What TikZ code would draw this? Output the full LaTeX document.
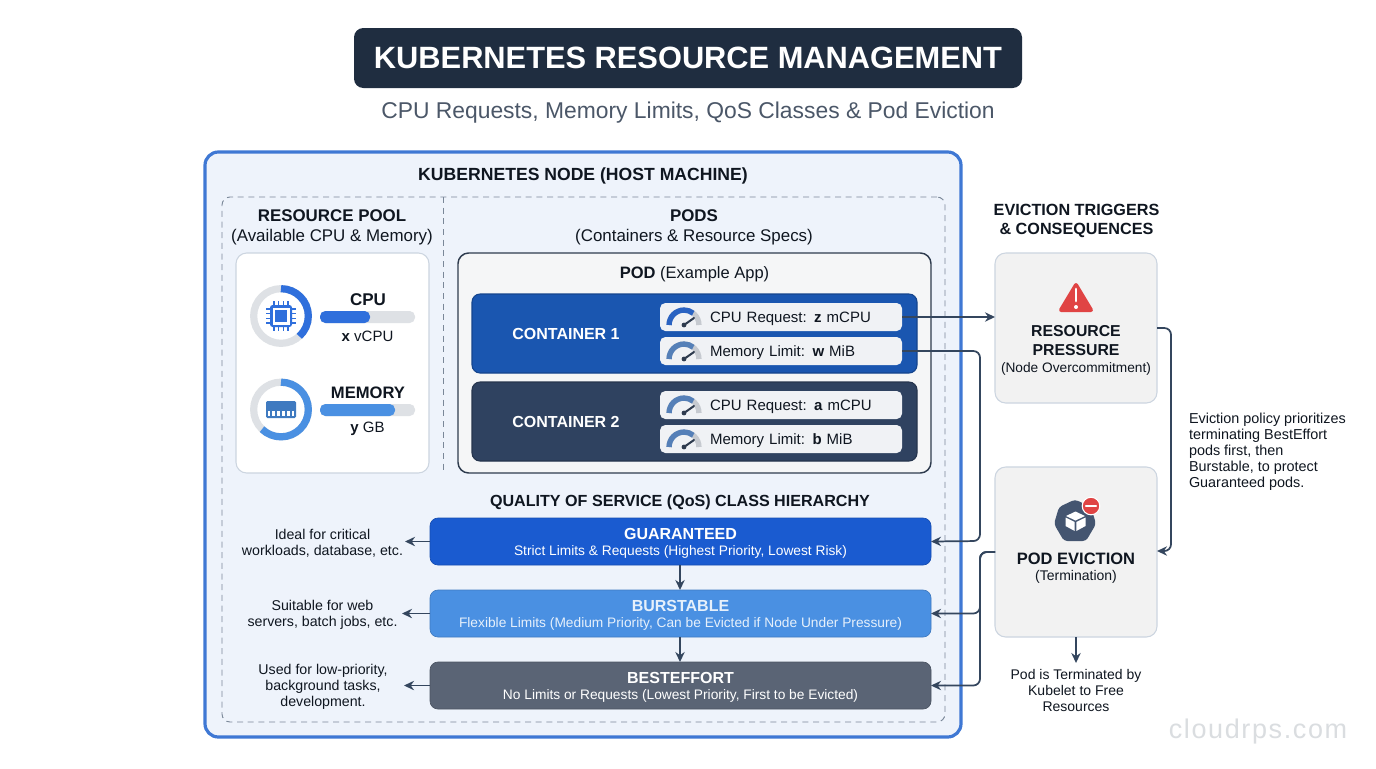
\documentclass[tikz,border=0pt]{standalone}
\usepackage{fontspec}
\setmainfont{Liberation Sans}
\newfontfamily\wmfont[LetterSpace=6]{Liberation Sans}
\usetikzlibrary{arrows.meta,calc}
\newcommand\fs[2]{\fontsize{\fpeval{#1*.75}pt}{\fpeval{#2*.75}pt}\selectfont}
\definecolor{ink}{HTML}{0F1620}
\definecolor{titlebg}{HTML}{1F2D40}
\definecolor{subt}{HTML}{4B5768}
\definecolor{nodeb}{HTML}{3F78D4}
\definecolor{nodef}{HTML}{EEF3FB}
\definecolor{dashc}{HTML}{7A8798}
\definecolor{cardb}{HTML}{CCD5E0}
\definecolor{podf}{HTML}{F5F6F7}
\definecolor{podb}{HTML}{2E3B4E}
\definecolor{conta}{HTML}{1A56B0}
\definecolor{contb}{HTML}{2F4260}
\definecolor{specf}{HTML}{F0F2F5}
\definecolor{guar}{HTML}{1A5BD0}
\definecolor{burst}{HTML}{4A90E2}
\definecolor{best}{HTML}{5A6475}
\definecolor{burstt}{HTML}{E6F0FB}
\definecolor{sidef}{HTML}{F2F2F2}
\definecolor{conn}{HTML}{34465E}
\definecolor{track}{HTML}{DEE1E5}
\definecolor{gtrack}{HTML}{C6CAD0}
\definecolor{cpub}{HTML}{2F6FDC}
\definecolor{gaugeb}{HTML}{5580B8}
\definecolor{gaugea}{HTML}{2A63C2}
\definecolor{warn}{HTML}{E04444}
\definecolor{wm}{HTML}{DADDE0}
\tikzset{
  x=0.75pt,y=-0.75pt,
  box/.style={inner sep=0pt,outer sep=0pt,align=center},
  outerbox/.style={box,draw=nodeb,line width=2.4pt,fill=nodef,rounded corners=10pt},
  dashbox/.style={box,draw=dashc,line width=.7pt,dash pattern=on 4.5pt off 3.5pt,rounded corners=6pt},
  cardbox/.style={box,draw=cardb,line width=.8pt,fill=white,rounded corners=8pt},
  podbox/.style={box,draw=podb,line width=1.1pt,fill=podf,rounded corners=8pt},
  contbox/.style={box,draw=#1!80!black,line width=.8pt,fill=#1,rounded corners=6pt},
  specbox/.style={box,fill=specf,rounded corners=4pt,text=ink},
  qosbox/.style={box,draw=#1!85!black,line width=.5pt,fill=#1,rounded corners=6pt,text=white},
  sidebox/.style={box,draw=cardb,line width=.8pt,fill=sidef,rounded corners=8pt},
  txt/.style n args={2}{inner sep=0pt,outer sep=0pt,align=center,text=ink,font={\fs{#1}{#2}}},
  link/.style={draw=conn,line width=1.3pt,rounded corners=5pt,-{Stealth[length=7.5pt,width=7pt]}},
  plain/.style={draw=conn,line width=1.3pt,rounded corners=5pt},
}
% name, style, x0, y0, x1, y1, text
\newcommand\pxbox[7]{\node[#2,minimum width={(#5-#3)*.75pt},minimum height={(#6-#4)*.75pt}] (#1) at ({(#3+#5)/2},{(#4+#6)/2}) {#7};}
\newcommand\ringicon[4]{% cx cy endangle colour
  \draw[track,line width=5.4pt] (#1,#2) circle[radius=20.5pt];
  \draw[#4,line width=5.4pt] (#1,#2) ++(90:20.5pt) arc[start angle=90,end angle=#3,radius=20.5pt];
}
\newcommand\gauge[3]{% cx cy colour
  \draw[gtrack,line width=4pt] (#1,#2) ++(180:11.2pt) arc[start angle=180,end angle=0,radius=11.2pt];
  \draw[#3,line width=4pt] (#1,#2) ++(180:11.2pt) arc[start angle=180,end angle=52,radius=11.2pt];
  \draw[podb,line width=1.5pt,line cap=round] (#1,#2) -- ++(10,-7);
  \fill[podb] (#1,#2) circle[radius=1.8pt];
}
\newcommand\qostext[3]{{\fs{16}{19}\bfseries\color{#3}\rule{0pt}{10.8pt}#1}\\{\fs{13.75}{17}\color{#3}#2}}
\newcommand\spectext[1]{\hspace*{37.5pt}\rule{0pt}{11.2pt}#1}
\begin{document}
\begin{tikzpicture}
\useasboundingbox (0,0) rectangle (1376,768);
\fill[white] (0,0) rectangle (1376,768);

% Title
\pxbox{title}{box,fill=titlebg,rounded corners=7pt,text=white,font={\fs{30.8}{36}\bfseries}}{354}{28}{1022}{88}{KUBERNETES RESOURCE MANAGEMENT}
\node[txt={22.85}{28},text=subt] (subtitle) at (688,113) {CPU Requests, Memory Limits, QoS Classes \& Pod Eviction};

% Host
\pxbox{host}{outerbox}{205}{152}{961}{737}{}
\pxbox{inner}{dashbox}{222}{197}{945}{722}{}
\coordinate (divtop) at (443,197);
\coordinate (divbot) at (443,474);
\draw[draw=dashc,line width=.7pt,dash pattern=on 4.5pt off 3.5pt] (divtop) -- (divbot);
\node[txt={17.6}{22},font={\fs{17.6}{22}\bfseries}] (hostlabel) at (583,175.5) {KUBERNETES NODE (HOST MACHINE)};
\node[txt={16.9}{20}] (poollabel) at (332,227) {\textbf{RESOURCE POOL}\\(Available CPU \& Memory)};
\node[txt={16.9}{20}] (podslabel) at (694,227) {\textbf{PODS}\\(Containers \& Resource Specs)};

% Resource pool
\pxbox{pool}{cardbox}{236}{253}{429}{473}{}
\ringicon{281}{316}{-48}{cpub}
\ringicon{281}{409.5}{-134}{burst}
% chip
\foreach \d in {-7,-2.5,2.5,7}{
  \draw[cpub,line width=.9pt] (281+\d,301) -- (281+\d,331);
  \draw[cpub,line width=.9pt] (266,316+\d) -- (296,316+\d);
}
\fill[cpub,rounded corners=2pt] (270,305) rectangle (292,327);
\fill[white] (272.5,307.5) rectangle (289.5,324.5);
\fill[cpub] (275,310) rectangle (287,322);
% memory
\fill[burst!85!black,rounded corners=1pt] (266,401) rectangle (296,418);
\foreach \d in {-12,-7.2,-2.4,2.4,7.2,12}{
  \fill[white] (281+\d-1.4,411) rectangle (281+\d+1.4,416);
}
\node[txt={17}{20},font={\fs{17}{20}\bfseries}] (cpulabel) at (368,299.5) {CPU};
\node[txt={16.6}{20},font={\fs{16.6}{20}\bfseries}] (memlabel) at (368,392.5) {MEMORY};
\fill[track,rounded corners=4pt] (320,311) rectangle (415,323);
\fill[cpub,rounded corners=4pt] (320,311) rectangle (370,323);
\fill[track,rounded corners=4pt] (320,404) rectangle (415,416);
\fill[burst,rounded corners=4pt] (320,404) rectangle (395,416);
\node[txt={15}{18}] (cpuval) at (367.5,336) {\textbf{x} vCPU};
\node[txt={15}{18}] (memval) at (367.5,429) {\textbf{y} GB};

% Pod
\pxbox{pod}{podbox}{458}{253}{931}{473}{}
\node[txt={16.5}{20}] (podlabel) at (694.5,274) {\textbf{POD} (Example App)};
\pxbox{c1}{contbox=conta}{472}{294}{917}{373}{}
\pxbox{c2}{contbox=contb}{472}{382}{917}{461}{}
\node[txt={16}{20},font={\fs{16}{20}\bfseries},text=white] (c1label) at (566,334) {CONTAINER 1};
\node[txt={16}{20},font={\fs{16}{20}\bfseries},text=white] (c2label) at (566,422) {CONTAINER 2};
\tikzset{spectextstyle/.style={text width=181.5pt,align=left,font={\fs{15}{18}}}}
\pxbox{s1}{specbox,spectextstyle}{660}{303}{902}{331}{\spectext{CPU Request: \textbf{z} mCPU}}
\pxbox{s2}{specbox,spectextstyle}{660}{337}{902}{365}{\spectext{Memory Limit: \textbf{w} MiB}}
\pxbox{s3}{specbox,spectextstyle}{660}{391}{902}{419}{\spectext{CPU Request: \textbf{a} mCPU}}
\pxbox{s4}{specbox,spectextstyle}{660}{425}{902}{453}{\spectext{Memory Limit: \textbf{b} MiB}}
\gauge{684}{325}{gaugea}
\gauge{684}{359}{gaugeb}
\gauge{684}{413}{gaugeb}
\gauge{684}{447}{gaugeb}

% QoS
\node[txt={16.1}{20},font={\fs{16.1}{20}\bfseries}] (qoslabel) at (680,502) {QUALITY OF SERVICE (QoS) CLASS HIERARCHY};
\pxbox{g}{qosbox=guar}{430}{518}{931}{565}{\qostext{GUARANTEED}{Strict Limits \& Requests (Highest Priority, Lowest Risk)}{white}}
\pxbox{b}{qosbox=burst}{430}{590}{931}{637}{\qostext{BURSTABLE}{Flexible Limits (Medium Priority, Can be Evicted if Node Under Pressure)}{burstt}}
\pxbox{e}{qosbox=best}{430}{662}{931}{709}{\qostext{BESTEFFORT}{No Limits or Requests (Lowest Priority, First to be Evicted)}{white}}
\node[txt={14.2}{16}] (gnote) at (322.5,543) {Ideal for critical\\workloads, database, etc.};
\node[txt={14.2}{16}] (bnote) at (322.5,615) {Suitable for web\\servers, batch jobs, etc.};
\node[txt={14.2}{16}] (enote) at (323,687) {Used for low-priority,\\background tasks,\\development.};

% Right column
\node[txt={16.2}{19},font={\fs{16.2}{19}\bfseries}] (evlabel) at (1076.5,221) {EVICTION TRIGGERS\\\& CONSEQUENCES};
\pxbox{rp}{sidebox}{995}{253}{1157}{403}{}
\pxbox{pe}{sidebox}{995}{467}{1157}{637}{}
% warning
\draw[warn,fill=warn,line width=3pt,line join=round] (1076,285) -- (1091,310) -- (1061,310) -- cycle;
\draw[white,line width=2.2pt,line cap=round] (1076,289) -- (1076,301);
\fill[white] (1076,307) circle[radius=1.5pt];
\node[txt={15.8}{19},font={\fs{15.8}{19}\bfseries}] (rplabel) at (1076,341) {RESOURCE\\PRESSURE};
\node[txt={13.7}{16}] (rpsub) at (1076,368.5) {(Node Overcommitment)};
% heptagon
\fill[contb!90!white,rounded corners=2.5pt] (1075,499.5) -- (1091,507) -- (1096,524) -- (1086,541) -- (1064,541) -- (1054,524) -- (1059,507) -- cycle;
\fill[white] (1075.5,511.5) -- (1085,516) -- (1075.5,520.5) -- (1066,516) -- cycle;
\fill[white] (1065.5,517.5) -- (1074.7,522) -- (1074.7,531) -- (1065.5,526) -- cycle;
\fill[white] (1085.5,517.5) -- (1076.3,522) -- (1076.3,531) -- (1085.5,526) -- cycle;
\fill[warn,draw=white,line width=.8pt] (1091,506) circle[radius=6.6pt];
\draw[white,line width=1.7pt,line cap=round] (1086,506) -- (1096,506);
\node[txt={16.5}{20},font={\fs{16.5}{20}\bfseries}] (pelabel) at (1076,559) {POD EVICTION};
\node[txt={14}{16}] (pesub) at (1076,577) {(Termination)};
\node[txt={14.4}{16},align=left,anchor=west] (policy) at (1189,452) {Eviction policy prioritizes\\terminating BestEffort\\pods first, then\\Burstable, to protect\\Guaranteed pods.};
\node[txt={14}{16}] (term) at (1076,690) {Pod is Terminated by\\Kubelet to Free\\Resources};

% Connectors
\coordinate (busx) at (980,0);
\coordinate (rpout) at (1157,328);
\coordinate (rpx) at (1171,0);
\coordinate (peinr) at (1157,551);
\coordinate (peoutl) at (995,552);
\coordinate (gin) at (931,541);
\coordinate (gtip) at (405,541.5);
\coordinate (btip) at (402,613.5);
\coordinate (etip) at (404,685.5);
\coordinate (termtip) at (1076,663);
\draw[link] (s1.east) -- (rp.west |- s1.east);
\draw[link] (s2.east) -- (busx |- s2.east) -- (busx |- gin) -- (g.east);
\draw[plain] (peoutl) -- (busx |- peoutl) -- (busx |- b.east);
\draw[link] (rpout) -- (rpx |- rpout) -- (rpx |- peinr) -- (peinr);
\draw[link] (peoutl) -- (busx |- peoutl) -- (busx |- b.east) -- (b.east);
\draw[link] (peoutl) -- (busx |- peoutl) -- (busx |- e.east) -- (e.east);
\draw[link] (pe.south) -- (termtip);
\draw[link] (g.south -| 680,0) -- (b.north -| 680,0);
\draw[link] (b.south -| 680,0) -- (e.north -| 680,0);
\draw[link] (g.west) -- (gtip);
\draw[link] (b.west) -- (btip);
\draw[link] (e.west) -- (etip);

% Watermark
\node[inner sep=0pt,text=wm,font={\fs{27}{34}\wmfont}] (wmark) at (1258,732) {cloudrps.com};
\end{tikzpicture}
\end{document}
